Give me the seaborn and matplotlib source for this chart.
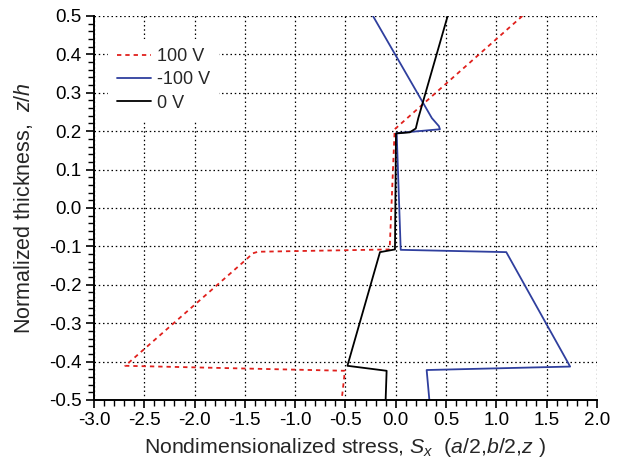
import numpy as np
import pandas as pd
import matplotlib
matplotlib.use("Agg")
import matplotlib.pyplot as plt
from matplotlib.ticker import MultipleLocator, FormatStrFormatter
import seaborn as sns

# Through-thickness stress profiles for three applied voltages
stress_pos100 = [1.26, -0.01, -0.06, -1.37, -1.42, -1.49, -2.69, -0.505, -0.537]
z_pos100      = [0.50, 0.205, -0.108, -0.114, -0.118, -0.135, -0.411, -0.424, -0.50]

stress_neg100 = [-0.226, 0.36, 0.43, 0.44, 0.01, 0.05, 1.10, 1.735, 0.308, 0.335]
z_neg100      = [0.50, 0.234, 0.213, 0.205, 0.195, -0.109, -0.115, -0.413, -0.422, -0.50]

stress_zero = [0.517, 0.225, 0.20, 0.14, 0.003, -0.007, -0.156, -0.48, -0.09, -0.10]
z_zero      = [0.50, 0.234, 0.207, 0.197, 0.194, -0.108, -0.115, -0.411, -0.424, -0.50]

labels = ["100 V", "-100 V", "0 V"]

sns.set_style("white")
plt.rcParams["font.family"] = ["Liberation Sans", "DejaVu Sans"]
plt.rcParams["mathtext.fontset"] = "custom"
plt.rcParams["mathtext.rm"] = "Liberation Sans"
plt.rcParams["mathtext.it"] = "Liberation Sans:italic"
plt.rcParams["axes.unicode_minus"] = False

fig = plt.figure(figsize=(6.21, 4.70), dpi=100)
ax = fig.add_axes([0.1514, 0.149, 0.8096, 0.817])

series = [
    (stress_pos100, z_pos100, labels[0], "#e0201c", (0, (2.4, 2.2))),
    (stress_neg100, z_neg100, labels[1], "#2f3f9e", "-"),
    (stress_zero, z_zero, labels[2], "black", "-"),
]
for xs, zs, lab, col, ls in series:
    df = pd.DataFrame({"S": xs, "z": zs})
    sns.lineplot(data=df, x="S", y="z", sort=False, estimator=None,
                 color=col, linestyle=ls, linewidth=1.3, label=lab, ax=ax)

ax.set_xlim(-3.0, 2.0)
ax.set_ylim(-0.5, 0.5)
ax.xaxis.set_major_locator(MultipleLocator(0.5))
ax.xaxis.set_minor_locator(MultipleLocator(0.1))
ax.yaxis.set_major_locator(MultipleLocator(0.1))
ax.yaxis.set_minor_locator(MultipleLocator(0.02))
ax.xaxis.set_major_formatter(FormatStrFormatter("%.1f"))
ax.yaxis.set_major_formatter(FormatStrFormatter("%.1f"))

ax.grid(True, which="major", color="black", linestyle=(0, (1.2, 2.2)), linewidth=0.9)
ax.set_axisbelow(True)

for s in ["top", "right"]:
    ax.spines[s].set_visible(False)
for s in ["left", "bottom"]:
    ax.spines[s].set_color("black")
    ax.spines[s].set_linewidth(1.4)

ax.tick_params(which="major", direction="out", length=6, width=1.2, colors="black",
               labelsize=13.5, pad=3)
ax.tick_params(which="minor", direction="out", length=4, width=1.0, colors="black")
ax.tick_params(axis="x", which="both", bottom=True)
ax.tick_params(axis="y", which="both", left=True)

ax.set_xlabel(r"Nondimensionalized stress, $S_x$  ($a$/2,$b$/2,$z$ )", fontsize=15.3, labelpad=5)
ax.set_ylabel(r"Normalized thickness,  $z/h$", fontsize=15.5, labelpad=10)

leg = ax.legend(loc="upper left", bbox_to_anchor=(0.028, 0.94), frameon=True, fontsize=13,
                handlelength=1.9, handletextpad=0.3, labelspacing=0.35,
                borderaxespad=0.0, borderpad=0.5, fancybox=False)
leg.get_frame().set_facecolor("white")
leg.get_frame().set_edgecolor("none")
leg.get_frame().set_alpha(1.0)

fig.savefig("out.png", dpi=100)
